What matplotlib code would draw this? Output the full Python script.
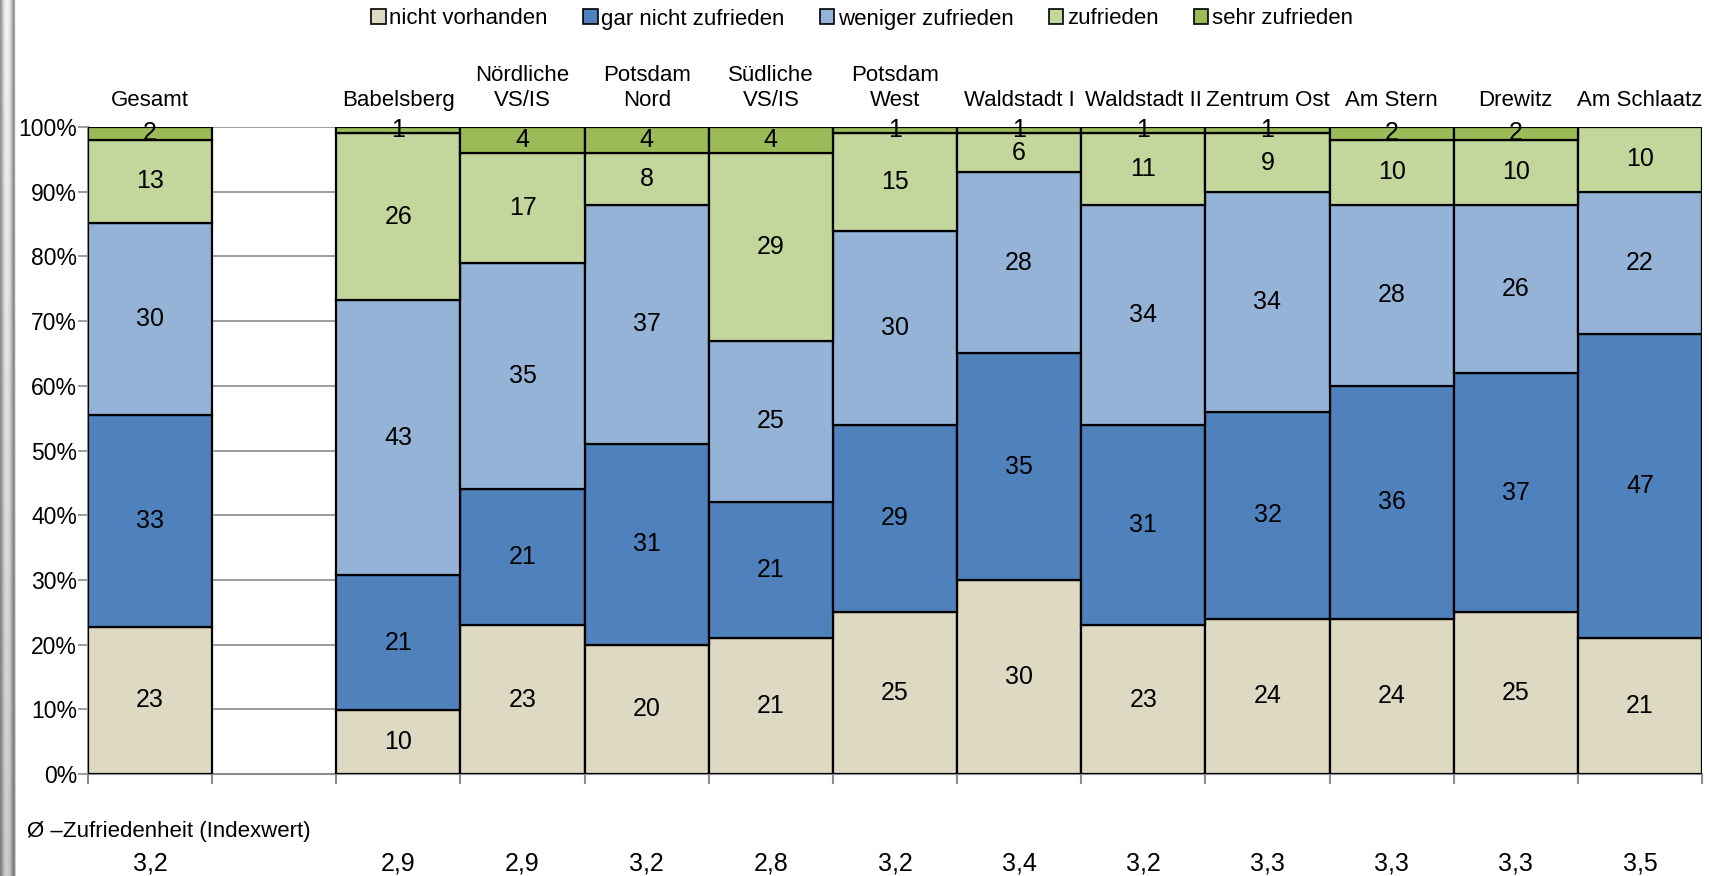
import matplotlib
matplotlib.use("Agg")
import matplotlib.pyplot as plt
import numpy as np
from matplotlib.patches import Patch

plt.rcParams['font.family'] = ['Liberation Sans', 'DejaVu Sans']
FS_NUM = 18
FS_TICK = 16.5
FS_LAB = 16
FS_LEG = 16

categories = ["Gesamt", "", "Babelsberg", "Nördliche\nVS/IS", "Potsdam\nNord", "Südliche\nVS/IS",
              "Potsdam\nWest", "Waldstadt I", "Waldstadt II", "Zentrum Ost", "Am Stern",
              "Drewitz", "Am Schlaatz"]
series_names = ["nicht vorhanden", "gar nicht zufrieden", "weniger zufrieden", "zufrieden", "sehr zufrieden"]
nicht_vorhanden = [23, 0, 10, 23, 20, 21, 25, 30, 23, 24, 24, 25, 21]
gar_nicht      = [33, 0, 21, 21, 31, 21, 29, 35, 31, 32, 36, 37, 47]
weniger        = [30, 0, 43, 35, 37, 25, 30, 28, 34, 34, 28, 26, 22]
zufrieden      = [13, 0, 26, 17, 8, 29, 15, 6, 11, 9, 10, 10, 10]
sehr           = [2, 0, 1, 4, 4, 4, 1, 1, 1, 1, 2, 2, 0]
index_values = ["3,2", "", "2,9", "2,9", "3,2", "2,8", "3,2", "3,4", "3,2", "3,3", "3,3", "3,3", "3,5"]
colors = ["#DDD9C3", "#4F81BD", "#95B3D7", "#C3D69B", "#9BBB59"]

W, H = 1709, 876
fig = plt.figure(figsize=(W/100, H/100), dpi=100)
ax = fig.add_axes([88/W, 1-774/H, (1702-88)/W, (774-127)/H])

data = np.array([nicht_vorhanden, gar_nicht, weniger, zufrieden, sehr], dtype=float)
totals = data.sum(axis=0)
x = np.arange(len(categories))
bottom = np.zeros(len(categories))
for i, (name, col) in enumerate(zip(series_names, colors)):
    vals = np.where(totals > 0, data[i] / np.where(totals > 0, totals, 1) * 100, 0)
    mask = data[i] > 0
    ax.bar(x[mask], vals[mask], bottom=bottom[mask], width=1.0, color=col,
           edgecolor="black", linewidth=1.6, zorder=3)
    for xi in x[mask]:
        ax.text(xi, bottom[xi] + vals[xi]/2, f"{int(data[i][xi])}", ha="center", va="center",
                fontsize=FS_NUM, zorder=5)
    bottom = bottom + vals

ax.set_xlim(-0.5, len(categories)-0.5)
ax.set_ylim(0, 100)
ax.set_yticks(np.arange(0, 101, 10))
ax.set_yticklabels([f"{v}%" for v in range(0, 101, 10)], fontsize=FS_TICK)
ax.yaxis.grid(True, color="#8c8c8c", linewidth=1.2, zorder=0)
ax.set_axisbelow(True)
ax.set_xticks(np.arange(-0.5, len(categories), 1.0))
ax.set_xticklabels([])
ax.tick_params(axis="x", direction="out", length=7, color="#8c8c8c", width=1.5)
ax.tick_params(axis="y", direction="out", length=7, color="#8c8c8c", width=1.2, pad=1)
for s in ["top", "right"]:
    ax.spines[s].set_visible(False)
for s in ["left", "bottom"]:
    ax.spines[s].set_color("#8c8c8c")
    ax.spines[s].set_linewidth(1.5)

for xi, lab in zip(x, categories):
    if lab:
        ax.text(xi, 1.025, lab, transform=ax.get_xaxis_transform(), ha="center", va="bottom",
                fontsize=FS_LAB, linespacing=1.25)

fig.text(27/W, 1-832/H, "Ø –Zufriedenheit (Indexwert)", ha="left", va="center", fontsize=FS_LAB)
for xi, v in zip(x, index_values):
    if v:
        xd = ax.transData.transform((xi, 0))[0]
        fig.text(xd/W, 1-864/H, v, ha="center", va="center", fontsize=FS_NUM)

handles = [Patch(facecolor=c, edgecolor="black", linewidth=1.2) for c in colors]
fig.legend(handles, series_names, loc="center", bbox_to_anchor=(862/W, 1-19/H), ncol=5,
           frameon=False, fontsize=FS_LEG, handlelength=0.65, handleheight=0.65,
           handletextpad=0.15, columnspacing=1.6)

# gray left border
bax = fig.add_axes([0, 0, 16/W, 1])
prof = np.array([0.55, 0.62, 0.7, 0.78, 0.85, 0.88, 0.9, 0.9, 0.88, 0.85, 0.8, 0.72, 0.62, 0.55, 0.62, 0.9])
vert = np.linspace(0.95, 0.8, 100)[:, None]
img = np.clip(prof[None, :] * (vert / 0.9), 0, 1)
bax.imshow(img, cmap="gray", vmin=0, vmax=1, aspect="auto", extent=[0, 1, 0, 1])
bax.axis("off")

fig.savefig("out.png", dpi=100)
